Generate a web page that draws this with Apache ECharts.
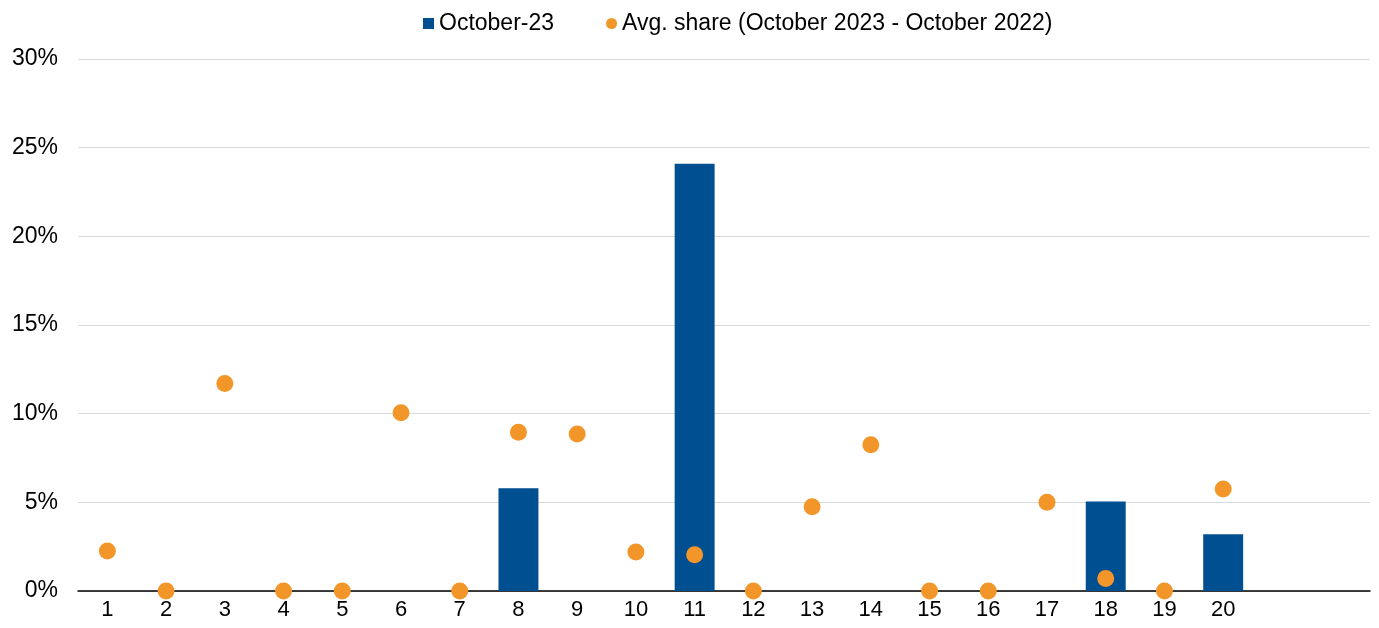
<!DOCTYPE html>
<html>
<head>
<meta charset="utf-8">
<script src="https://cdn.jsdelivr.net/npm/echarts@6/dist/echarts.min.js"></script>
<style>
  html, body { margin: 0; padding: 0; background: #fff; }
  #chart { width: 1379px; height: 628px; }
</style>
</head>
<body>
<div id="chart"></div>
<script>
// categories (last two slots are empty on the source axis)
const categories = ['1','2','3','4','5','6','7','8','9','10','11','12','13','14','15','16','17','18','19','20','',''];
const octoberShare = [null,null,null,null,null,null,null,5.8,null,null,24.1,null,null,null,null,null,null,5.05,null,3.2,null,null];
const avgShare = [2.25,0,11.7,0,0,10.05,0,8.95,8.85,2.2,2.05,0,4.75,8.25,0,0,5.0,0.7,0,5.75,null,null];
const yTicks = [0, 5, 10, 15, 20, 25, 30];

const chart = echarts.init(document.getElementById('chart'), null, { renderer: 'canvas' });

const font = 'Liberation Sans, Arial, sans-serif';

chart.setOption({
  animation: false,
  backgroundColor: '#fff',
  textStyle: { fontFamily: font },
  legend: {
    top: 7,
    left: 418,
    itemWidth: 11,
    itemHeight: 11,
    itemGap: 52,
    textStyle: { fontSize: 23, color: '#000', fontFamily: font },
    data: [
      { name: 'October-23', icon: 'rect' },
      { name: 'Avg. share (October 2023 - October 2022)', icon: 'circle' }
    ]
  },
  grid: { left: 78, right: 9, top: 59, bottom: 37, containLabel: false },
  xAxis: {
    type: 'category',
    data: categories,
    axisLine: { lineStyle: { color: '#000', width: 1.5 } },
    axisTick: { show: false },
    axisLabel: { color: '#000', fontSize: 22, margin: 8, fontFamily: font, interval: 0 }
  },
  yAxis: {
    type: 'value',
    min: yTicks[0],
    max: yTicks[yTicks.length - 1],
    interval: 5,
    axisLine: { show: false },
    axisTick: { show: false },
    splitLine: { lineStyle: { color: '#d9d9d9', width: 1 } },
    axisLabel: { color: '#000', fontSize: 23, margin: 20, fontFamily: font, formatter: v => v + '%' }
  },
  series: [
    {
      name: 'October-23',
      type: 'bar',
      data: octoberShare,
      barWidth: '68%',
      itemStyle: { color: '#004f91' }
    },
    {
      name: 'Avg. share (October 2023 - October 2022)',
      type: 'scatter',
      data: avgShare,
      symbol: 'circle',
      symbolSize: 17,
      itemStyle: { color: '#f2962a', opacity: 1 },
      z: 3
    }
  ]
});
</script>
</body>
</html>
